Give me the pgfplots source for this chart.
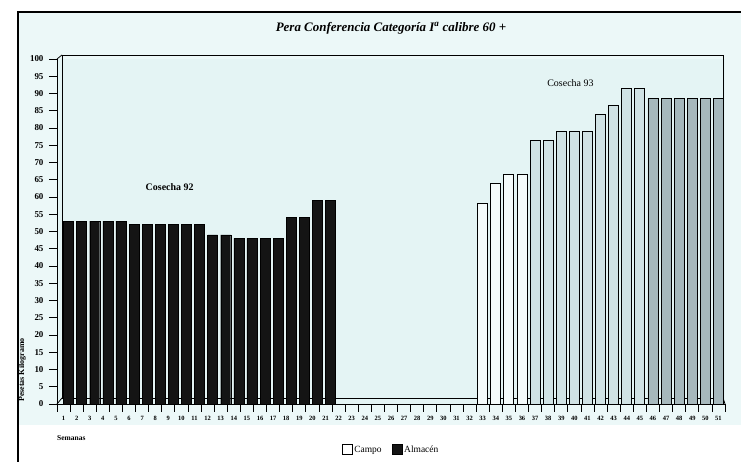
\documentclass[border=0pt]{standalone}
\usepackage{fontspec}
\setmainfont{Liberation Serif}
\usepackage{pgfplots}
\pgfplotsset{compat=1.18}
\definecolor{bgc}{HTML}{ECF8F8}
\definecolor{plotbg}{HTML}{E4F4F4}
\definecolor{campoA}{HTML}{F4FBFB}
\definecolor{campoB}{HTML}{D0E2E4}
\definecolor{campoC}{HTML}{A6B8BC}
\definecolor{almacen}{HTML}{141414}
\begin{document}
\begin{tikzpicture}[x=1bp,y=1bp]
% picture frame: axis box south west at (0,0); image px (X,Y) -> (X-57, 404-Y)
\path[use as bounding box] (-57,-58) rectangle (684,404);
\fill[white] (-57,-58) rectangle (684,404);
\fill[bgc] (-39,-21) rectangle (684,392);
\draw[line width=1.2pt] (-39,-58) -- (-39,392) -- (684,392);
\begin{axis}[
  at={(0,0)}, anchor=south west,
  scale only axis, width=668bp, height=345bp,
  xmin=0.5, xmax=51.5, ymin=0, ymax=100,
  clip=false,
  axis x line*=bottom, axis y line*=left,
  axis line style={line width=0.8pt, -},
  axis background/.style={fill=plotbg},
  ytick={0,5,...,100},
  xtick={1,...,51},
  major x tick style={draw=none},
  minor xtick={0.5,1.5,...,51.5},
  tick align=outside,
  major tick length=8bp, minor tick length=8bp,
  tick style={line width=0.8pt, black},
  x tick label style={font=\fontsize{6.5}{7}\selectfont\bfseries, yshift=-1bp},
  y tick label style={font=\fontsize{9}{10}\selectfont\bfseries, xshift=-2bp},
  /pgf/number format/assume math mode=true,
  legend style={at={(rel axis cs:0.5,0)}, anchor=center, yshift=-46bp,
    draw=none, fill=none, font=\fontsize{9.5}{10}\selectfont,
    legend columns=2, /tikz/every even column/.append style={column sep=8bp}},
  legend image code/.code={\draw[#1, draw=black, line width=0.6pt] (0bp,-4bp) rectangle (10bp,6bp);},
]
% back wall (3D box)
\draw[line width=0.8pt] ([xshift=5bp,yshift=6bp]rel axis cs:0,0) -- ([xshift=5bp,yshift=4bp]rel axis cs:0,1) -- ([xshift=-2bp,yshift=4bp]rel axis cs:1,1) -- ([xshift=-2bp,yshift=6bp]rel axis cs:1,0) -- cycle;
\draw[line width=0.8pt] (rel axis cs:0,1) -- ([xshift=5bp,yshift=4bp]rel axis cs:0,1);
\draw[line width=0.8pt] (rel axis cs:0,0) -- ([xshift=5bp,yshift=6bp]rel axis cs:0,0);
\draw[line width=0.8pt] (rel axis cs:1,0) -- ([xshift=-2bp,yshift=6bp]rel axis cs:1,0);

\addlegendimage{fill=white}
\addlegendentry{Campo}
\addlegendimage{fill=almacen}
\addlegendentry{Almac\'en}

% Almacén (Cosecha 92)
\addplot[ybar, bar width=10bp, bar shift=5bp, fill=almacen, draw=black, forget plot] coordinates {
(1,53) (2,53) (3,53) (4,53) (5,53) (6,52) (7,52) (8,52) (9,52) (10,52) (11,52)
(12,49) (13,49) (14,48) (15,48) (16,48) (17,48) (18,54) (19,54) (20,59) (21,59)};
% Campo (Cosecha 93)
\addplot[ybar, bar width=10bp, bar shift=0bp, fill=campoA, draw=black, line width=0.8pt, forget plot] coordinates {
(33,58) (34,64) (35,66.5) (36,66.5)};
\addplot[ybar, bar width=10bp, bar shift=0bp, fill=campoB, draw=black, line width=0.8pt, forget plot] coordinates {
(37,76.5) (38,76.5) (39,79) (40,79) (41,79) (42,84) (43,86.5) (44,91.5) (45,91.5)};
\addplot[ybar, bar width=10bp, bar shift=0bp, fill=campoC, draw=black, line width=0.8pt, forget plot] coordinates {
(46,88.5) (47,88.5) (48,88.5) (49,88.5) (50,88.5) (51,88.5)};

\node[font=\fontsize{10}{11}\selectfont\bfseries] at (axis cs:9.1,63) {Cosecha 92};
\node[font=\fontsize{10}{11}\selectfont] at (axis cs:39.7,93) {Cosecha 93};
\node[font=\fontsize{13}{14}\selectfont\bfseries\itshape] at ([yshift=31bp]rel axis cs:0.5,1) {Pera Conferencia Categor\'ia I\textsuperscript{a} calibre 60 +};
\node[rotate=90, anchor=south west, font=\fontsize{8}{9}\selectfont\bfseries, inner sep=0pt] at ([xshift=-31bp,yshift=2bp]rel axis cs:0,0) {Pesetas Kilogramo};
\node[anchor=west, font=\fontsize{7.5}{8}\selectfont\bfseries, inner sep=0pt] at ([xshift=0bp,yshift=-34bp]rel axis cs:0,0) {Semanas};
\end{axis}
\end{tikzpicture}
\end{document}
